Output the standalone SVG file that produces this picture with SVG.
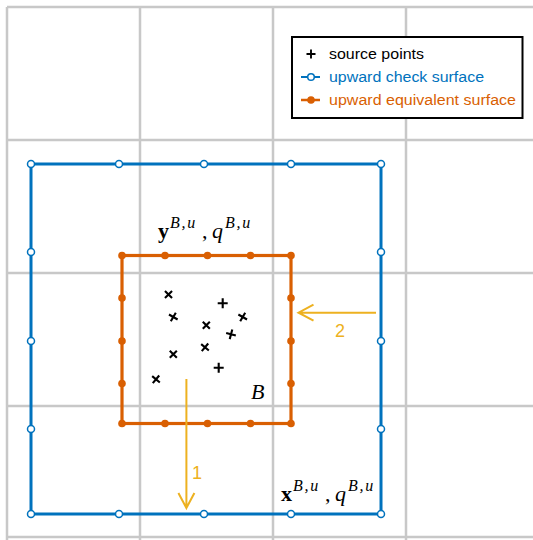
<svg xmlns="http://www.w3.org/2000/svg" width="533" height="540" viewBox="0 0 533 540">
<style>
.grid{stroke:#c8c8c8;stroke-width:2.5;fill:none}
.chk{stroke:#0072BD;stroke-width:3;fill:none}
.chkpt{stroke:#0072BD;stroke-width:1.5;fill:#fff}
.eq{stroke:#D95F02;stroke-width:3.2;fill:none}
.eqpt{fill:#D95F02;stroke:none}
.src{stroke:#000;stroke-width:2.1;fill:none}
.arr{stroke:#EDB120;stroke-width:2;fill:none}
.lbl{font-family:"Liberation Sans",Arial,sans-serif;font-size:18px;fill:#EDB120}
.leg{font-family:"Liberation Sans",Arial,sans-serif;font-size:15.5px}
.m{font-family:"Liberation Serif","Times New Roman",serif;font-size:22px;fill:#000}
.sup{font-size:16px;font-style:italic;letter-spacing:1.8px}
</style>
<defs>
<path id="plus" d="M-5,0H5M0,-5V5"/>
<circle id="oc" r="3.5"/>
<circle id="fc" r="3.8"/>
</defs>
<rect width="533" height="540" fill="#fff"/>
<g id="grid" class="grid">
<path d="M7,7V540M140,7V540M273,7V540M406,7V540M7,7H533M7,140H533M7,273H533M7,406H533M7,537H533"/>
</g>
<g id="check-surface">
<rect class="chk" x="31" y="164" width="350" height="350"/>
<g class="chkpt">
<use href="#oc" x="31" y="164"/><use href="#oc" x="119" y="164"/><use href="#oc" x="204" y="164"/><use href="#oc" x="291" y="164"/><use href="#oc" x="381" y="164"/>
<use href="#oc" x="31" y="514"/><use href="#oc" x="119" y="514"/><use href="#oc" x="204" y="514"/><use href="#oc" x="291" y="514"/><use href="#oc" x="381" y="514"/>
<use href="#oc" x="31" y="252"/><use href="#oc" x="31" y="341"/><use href="#oc" x="31" y="429"/>
<use href="#oc" x="381" y="252"/><use href="#oc" x="381" y="341"/><use href="#oc" x="381" y="429"/>
</g>
</g>
<g id="equivalent-surface">
<rect class="eq" x="122" y="255.5" width="169" height="168"/>
<g class="eqpt">
<use href="#fc" x="122" y="255.5"/><use href="#fc" x="165" y="255.5"/><use href="#fc" x="207.5" y="255.5"/><use href="#fc" x="250.5" y="255.5"/><use href="#fc" x="291" y="255.5"/>
<use href="#fc" x="122" y="423.5"/><use href="#fc" x="165" y="423.5"/><use href="#fc" x="207.5" y="423.5"/><use href="#fc" x="250.5" y="423.5"/><use href="#fc" x="291" y="423.5"/>
<use href="#fc" x="122" y="298"/><use href="#fc" x="122" y="341"/><use href="#fc" x="122" y="383.5"/>
<use href="#fc" x="291" y="298"/><use href="#fc" x="291" y="341"/><use href="#fc" x="291" y="383.5"/>
</g>
</g>
<g id="source-points" class="src">
<use href="#plus" transform="translate(168.5,294.5) rotate(45)"/>
<use href="#plus" transform="translate(222.7,303.3)"/>
<use href="#plus" transform="translate(173.3,317) rotate(30)"/>
<use href="#plus" transform="translate(242.7,317) rotate(30)"/>
<use href="#plus" transform="translate(206.3,325.3) rotate(45)"/>
<use href="#plus" transform="translate(231,334.3) rotate(15)"/>
<use href="#plus" transform="translate(205,347.3) rotate(40)"/>
<use href="#plus" transform="translate(173.3,354.3) rotate(45)"/>
<use href="#plus" transform="translate(218.7,367.7)"/>
<use href="#plus" transform="translate(156,379.3) rotate(40)"/>
</g>
<g id="label-B">
<text class="m" x="251" y="399" font-style="italic" font-size="21">B</text>
</g>
<g id="label-y">
<text class="m" y="238"><tspan x="158" font-weight="bold">y</tspan><tspan class="sup" x="170" y="228">B,u</tspan><tspan x="202" y="238">,</tspan><tspan x="212" font-style="italic">q</tspan><tspan class="sup" x="225" y="228">B,u</tspan></text>
</g>
<g id="label-x">
<text class="m" y="501"><tspan x="281" font-weight="bold">x</tspan><tspan class="sup" x="293" y="491">B,u</tspan><tspan x="325" y="501">,</tspan><tspan x="335" font-style="italic">q</tspan><tspan class="sup" x="348" y="491">B,u</tspan></text>
</g>
<g id="connectors">
<g id="arrow-1">
<path class="arr" d="M186.4,379V508M178.4,493L186.4,508L194.4,493"/>
<text class="lbl" x="192" y="479">1</text>
</g>
<g id="arrow-2">
<path class="arr" d="M376,312.7H298.5M313.5,304.7L298.5,312.7L313.5,320.7"/>
<text class="lbl" x="335" y="337">2</text>
</g>
</g>
<g id="legend">
<rect x="292" y="37" width="230.5" height="81" fill="#fff" stroke="#000" stroke-width="2"/>
<use href="#plus" class="src" transform="translate(311,54) scale(0.9)"/>
<path d="M301,77H320" stroke="#0072BD" stroke-width="2"/>
<circle cx="311" cy="77" r="3.3" class="chkpt"/>
<path d="M301,100H320" stroke="#D95F02" stroke-width="2.5"/>
<circle cx="311" cy="100" r="3.8" class="eqpt"/>
<text class="leg" x="329" y="59" fill="#000" textLength="95" lengthAdjust="spacingAndGlyphs">source points</text>
<text class="leg" x="329" y="82" fill="#0072BD" textLength="155" lengthAdjust="spacingAndGlyphs">upward check surface</text>
<text class="leg" x="329" y="105" fill="#D95F02" textLength="187" lengthAdjust="spacingAndGlyphs">upward equivalent surface</text>
</g>
</svg>
